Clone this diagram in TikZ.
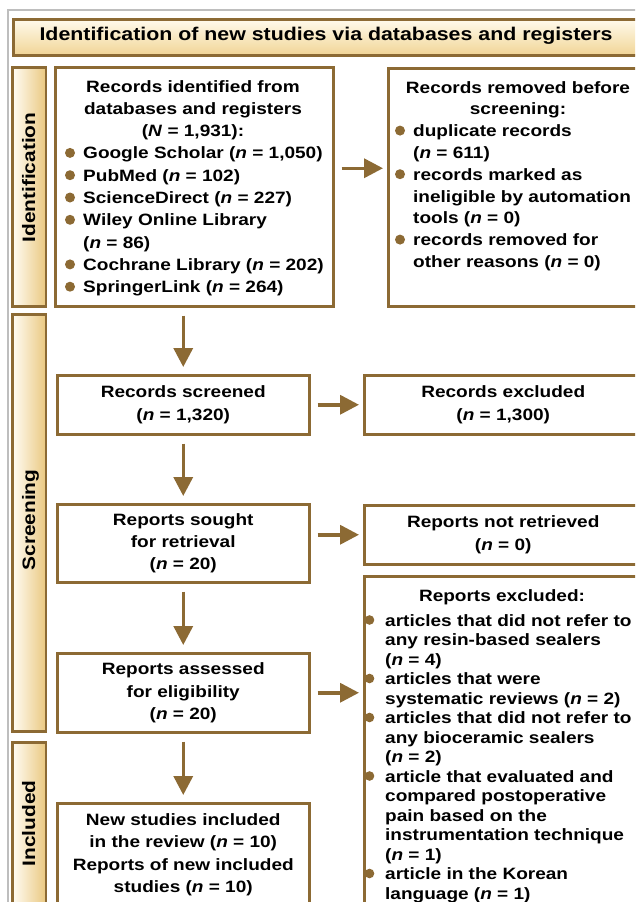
\documentclass[tikz,border=0pt]{standalone}
\usepackage{fontspec}
\setmainfont{Liberation Sans}[FakeStretch=1.16]
\usetikzlibrary{arrows.meta}
\definecolor{brn}{RGB}{140,106,52}
\definecolor{barGold}{RGB}{234,200,128}
\definecolor{barLight}{RGB}{255,252,244}
\definecolor{titleTop}{RGB}{255,250,236}
\definecolor{titleBot}{RGB}{241,213,150}
\definecolor{frameGray}{RGB}{190,190,190}
\begin{document}
\begin{tikzpicture}[x=1pt,y=-1pt,
  every node/.style={font=\bfseries\fontsize{16.4}{22.3}\selectfont, inner sep=0pt, text=black},
  box/.style={draw=brn, line width=2.5pt, fill=white, anchor=north west, align=center},
  titlebox/.style={draw=brn, line width=2.5pt, top color=titleTop, bottom color=titleBot, anchor=north west},
  bar/.style={draw=brn, line width=2.5pt, left color=barLight, right color=barGold, anchor=north west},
  barlabel/.style={rotate=90, anchor=base, font=\bfseries\fontsize{18}{20}\selectfont},
  arr/.style={draw=brn, line width=3.5pt, -{Triangle[width=19pt,length=19pt]}},
  downarrow/.style={arr, shorten <=8pt, shorten >=7pt},
  sidearrow/.style={arr, shorten <=7pt, shorten >=4pt}
]
\useasboundingbox (0,0) rectangle (635,902);
\clip (0,0) rectangle (635,902);
\fill[white] (0,0) rectangle (635,902);

% outer frame
\draw[frameGray, line width=1.2pt] (640,10) -- (8,10) -- (8,910);

% title
\node[titlebox, minimum width=640, minimum height=36] (title) at (12,18) {};
\node[anchor=base, font=\bfseries\fontsize{18.4}{22}\selectfont] (titletext) at (326,40)
  {Identification of new studies via databases and registers};

% side bars
\node[bar, minimum width=33.5, minimum height=239] (barid) at (11.25,66) {};
\node[bar, minimum width=33.5, minimum height=417] (barsc) at (11.25,313) {};
\node[bar, minimum width=33.5, minimum height=166] (barin) at (11.25,741) {};
\node[barlabel] (idlab) at (35,177.5) {Identification};
\node[barlabel] (sclab) at (35,520) {Screening};
\node[barlabel] (inlab) at (35,823.5) {Included};

% boxes
\node[box, minimum width=278, minimum height=239] (identified) at (54,66) {};
\node[box, minimum width=262, minimum height=238] (removed) at (387,67) {};
\node[box, minimum width=252, minimum height=59] (screened) at (56,374)
  {Records screened\\(\textit{n} = 1,320)};
\node[box, minimum width=278, minimum height=59] (recexcl) at (363,374)
  {Records excluded\\(\textit{n} = 1,300)};
\node[box, minimum width=252, minimum height=78] (sought) at (56,503)
  {Reports sought\\for retrieval\\(\textit{n} = 20)};
\node[box, minimum width=278, minimum height=59] (notret) at (363,504)
  {Reports not retrieved\\(\textit{n} = 0)};
\node[box, minimum width=278, minimum height=340] (repexcl) at (363,575) {};
\node[box, minimum width=252, minimum height=79] (assessed) at (56,652)
  {Reports assessed\\for eligibility\\(\textit{n} = 20)};
\node[box, minimum width=252, minimum height=103] (included) at (56,802)
  {New studies included\\in the review (\textit{n} = 10)\\Reports of new included\\studies (\textit{n} = 10)};

% identified box text
\foreach \yy/\txt [count=\i] in {86/{Records identified from},108.3/{databases and registers},130.6/{(\textit{N} = 1,931):}}
  \node[anchor=base] (idh\i) at (193,\yy+6) {\txt};
\foreach \yy/\b/\txt [count=\i] in {
  152.9/1/{Google Scholar (\textit{n} = 1,050)},
  175.2/1/{PubMed (\textit{n} = 102)},
  197.5/1/{ScienceDirect (\textit{n} = 227)},
  219.8/1/{Wiley Online Library},
  242.1/0/{(\textit{n} = 86)},
  264.4/1/{Cochrane Library (\textit{n} = 202)},
  286.7/1/{SpringerLink (\textit{n} = 264)}}
{
  \node[anchor=base west] (idl\i) at (83,\yy+6) {\txt};
  \ifnum\b=1 \fill[brn] (70,\yy) circle (5pt);\fi
}

% removed box text
\foreach \yy/\txt [count=\i] in {87/{Records removed before},108.8/{screening:}}
  \node[anchor=base] (rmh\i) at (518,\yy+6) {\txt};
\foreach \yy/\b/\txt [count=\i] in {
  130.6/1/{duplicate records},
  152.4/0/{(\textit{n} = 611)},
  174.2/1/{records marked as},
  196/0/{ineligible by automation},
  217.8/0/{tools (\textit{n} = 0)},
  239.6/1/{records removed for},
  261.4/0/{other reasons (\textit{n} = 0)}}
{
  \node[anchor=base west] (rml\i) at (413,\yy+6) {\txt};
  \ifnum\b=1 \fill[brn] (400,\yy) circle (5pt);\fi
}

% reports excluded text
\node[anchor=base] (rxh) at (502,601) {Reports excluded:};
\foreach \yy/\b/\txt [count=\i] in {
  620/1/{articles that did not refer to},
  639.5/0/{any resin-based sealers},
  659/0/{(\textit{n} = 4)},
  678.5/1/{articles that were},
  698/0/{systematic reviews (\textit{n} = 2)},
  717.5/1/{articles that did not refer to},
  737/0/{any bioceramic sealers},
  756.5/0/{(\textit{n} = 2)},
  776/1/{article that evaluated and},
  795.5/0/{compared postoperative},
  815/0/{pain based on the},
  834.5/0/{instrumentation technique},
  854/0/{(\textit{n} = 1)},
  873.5/1/{article in the Korean},
  893/0/{language (\textit{n} = 1)}}
{
  \node[anchor=base west] (rxl\i) at (385,\yy+6) {\txt};
  \ifnum\b=1 \fill[brn] (369.5,\yy) circle (4.8pt);\fi
}

% arrows
\draw[downarrow] (screened.north |- identified.south) -- (screened.north);
\draw[downarrow] (screened.south) -- (sought.north);
\draw[downarrow] (sought.south) -- (assessed.north);
\draw[downarrow] (assessed.south) -- (included.north);
\draw[sidearrow] ([yshift=18.5pt]identified.east) -- ([yshift=18.5pt]identified.east -| removed.west);
\draw[sidearrow] (screened.east) -- (screened.east -| recexcl.west);
\draw[sidearrow] (sought.east |- notret.west) -- (notret.west);
\draw[sidearrow] (assessed.east) -- (assessed.east -| repexcl.west);
\end{tikzpicture}
\end{document}
